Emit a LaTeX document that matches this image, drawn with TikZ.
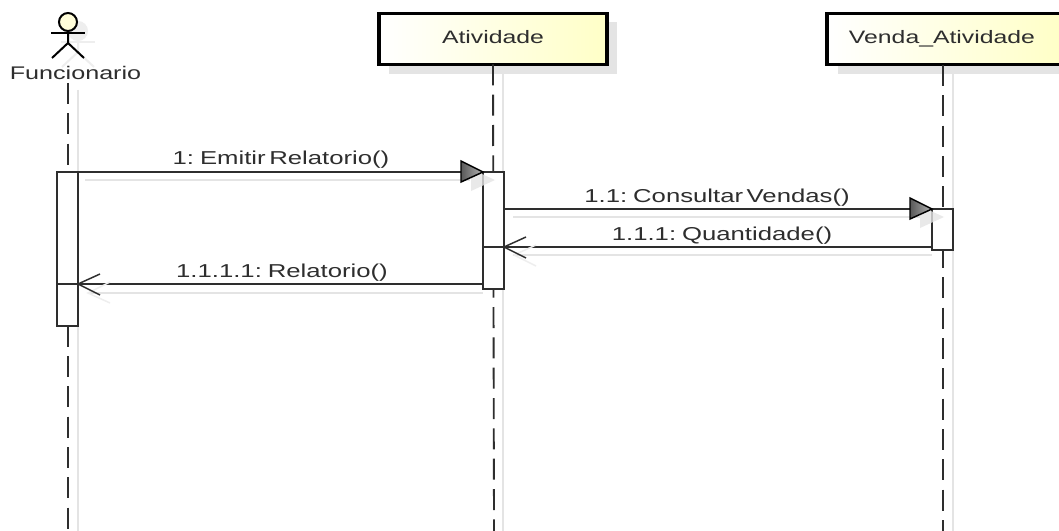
\documentclass[tikz,border=0pt]{standalone}
\usepackage{fontspec}
\setmainfont[FakeStretch=1.377,WordSpace=0.5]{Liberation Sans}
\definecolor{shad}{HTML}{E4E4E4}
\definecolor{shadlight}{HTML}{EEEEEE}
\definecolor{ink}{HTML}{2E2E2E}
\tikzset{
  px/.style={x=0.75pt,y=-0.75pt},
  shadowline/.style={draw=shad,line width=1.4pt},
  lifeline/.style={draw=ink,line width=1.4pt,dash pattern=on 15.75pt off 7pt},
  headbox/.style={draw=black,line width=2.4pt,left color=white,right color=yellow!22,minimum width=#1,minimum height=38pt,inner sep=0pt,outer sep=0pt,text=ink},
  headshadow/.style={fill=shad,minimum width=#1,minimum height=39pt,inner sep=0pt,outer sep=0pt},
  activation/.style={draw=ink,line width=1.1pt,fill=white,minimum width=15.8pt,minimum height=#1,inner sep=0pt,outer sep=0pt},
  msg/.style={draw=ink,line width=1.1pt},
  msglabel/.style={font=\fontsize{14pt}{16pt}\selectfont,text=ink,inner sep=0pt,anchor=base},
  headlabel/.style={font=\fontsize{13.5pt}{16pt}\selectfont,text=ink,inner sep=0pt,anchor=base},
  tri/.style={draw=black,line width=1.1pt,line join=miter,left color=black!65,right color=black!30},
  trishadow/.style={fill=shad},
  opentip/.style={draw=ink,line width=1.1pt},
  opentipshadow/.style={draw=shadlight,line width=1.1pt},
  actorline/.style={draw=black,line width=1.5pt},
  actorshadow/.style={draw=shadlight,line width=1.5pt}
}
\begin{document}
\begin{tikzpicture}[px]
\useasboundingbox[fill=white] (0,0) rectangle (1059,531);
\clip (0,0) rectangle (1059,531);
% header shadows
\node[headshadow=171pt] (sA) at (503,48) {};
\node[headshadow=176pt] (sV) at (955.5,48) {};
% lifeline shadows
\coordinate (lsFt) at (78,90); \coordinate (lsFb) at (78,531);
\coordinate (lsAt) at (503,70); \coordinate (lsAb) at (503,531);
\coordinate (lsVt) at (953,70); \coordinate (lsVb) at (953,531);
\draw[shadowline] (lsFt) -- (lsFb);
\draw[shadowline] (lsAt) -- (lsAb);
\draw[shadowline] (lsVt) -- (lsVb);
% actor shadow
\draw[actorshadow,fill=shadlight] (78,31) circle (9);
\draw[actorshadow] (61,42) -- (95,42);
\draw[actorshadow] (78,41) -- (78,52) -- (62,67);
\draw[actorshadow] (78,52) -- (94,67);
% lifelines
\coordinate (lFt) at (68,83); \coordinate (lFb) at (68,531);
\coordinate (lVt) at (943,65); \coordinate (lVb) at (943,531);
\coordinate (lAb) at (494,531);
% header boxes
\node[headbox=171pt] (A) at (493,39) {};
\node[headbox=176.25pt] (V) at (944.5,39) {};
\node[headlabel] (At) at (493,44) {Atividade};
\node[headlabel] (Vt) at (942,44) {Venda\_Atividade};
\draw[lifeline] (A.south) -- (lAb);
\draw[lifeline] (lFt) -- (lFb);
\draw[lifeline] (lVt) -- (lVb);
% actor
\draw[actorline,fill=yellow!15] (68,22) circle (9);
\draw[actorline] (51,33) -- (85,33);
\draw[actorline] (68,32) -- (68,43) -- (52,58);
\draw[actorline] (68,43) -- (84,58);
\node[msglabel,font=\fontsize{13.7pt}{16pt}\selectfont] (fname) at (75.5,80) {Funcionario};
% message shadows
\coordinate (s1a) at (85,180); \coordinate (s1b) at (470,180);
\coordinate (s2a) at (513,217); \coordinate (s2b) at (920,217);
\coordinate (s3a) at (513,255); \coordinate (s3b) at (932,255);
\coordinate (s4a) at (88,293); \coordinate (s4b) at (483,293);
\draw[shadowline] (s1a) -- (s1b);
\draw[shadowline] (s2a) -- (s2b);
\draw[shadowline] (s3a) -- (s3b);
\draw[shadowline] (s4a) -- (s4b);
% activations
\node[activation=115.5pt] (aF) at (67.5,249) {};
\node[activation=87.75pt] (aA) at (493.5,230.5) {};
\node[activation=30.75pt] (aV) at (942.5,229.5) {};
% messages
\coordinate (m2end) at (932,209);
\coordinate (m2start) at (504,209);
\coordinate (m3start) at (932,247);
\coordinate (m3end) at (504,247);
\coordinate (m3back) at (483,247);
\coordinate (m4start) at (483,284);
\coordinate (m4end) at (78,284);
\coordinate (m4back) at (57,284);
\draw[msg] (aF.north east) -- (aA.north west);
\draw[msg] (m2start) -- (m2end);
\draw[msg] (m3start) -- (m3end);
\draw[msg] (m3end) -- (m3back);
\draw[msg] (m4start) -- (m4end);
\draw[msg] (m4end) -- (m4back);
% arrow shadows and heads
\fill[trishadow,opacity=.8] (471,169) -- (471,191) -- (495,180) -- cycle;
\fill[trishadow,opacity=.8] (920,206) -- (920,228) -- (944,217) -- cycle;
\draw[opentipshadow] (536,245) -- (514,255) -- (536,266);
\draw[opentipshadow] (110,282) -- (88,293) -- (110,303);
\draw[tri] (461,161) -- (461,182) -- (483,172) -- cycle;
\draw[tri] (910,198) -- (910,219) -- (932,209) -- cycle;
\draw[opentip] (526,237) -- (504,247) -- (526,258);
\draw[opentip] (100,274) -- (78,284) -- (100,295);
% labels
\node[msglabel] (l1) at (281,165) {1: Emitir Relatorio()};
\node[msglabel] (l2) at (717,202) {1.1: Consultar Vendas()};
\node[msglabel] (l3) at (722,240) {1.1.1: Quantidade()};
\node[msglabel] (l4) at (282,277) {1.1.1.1: Relatorio()};
\end{tikzpicture}
\end{document}
